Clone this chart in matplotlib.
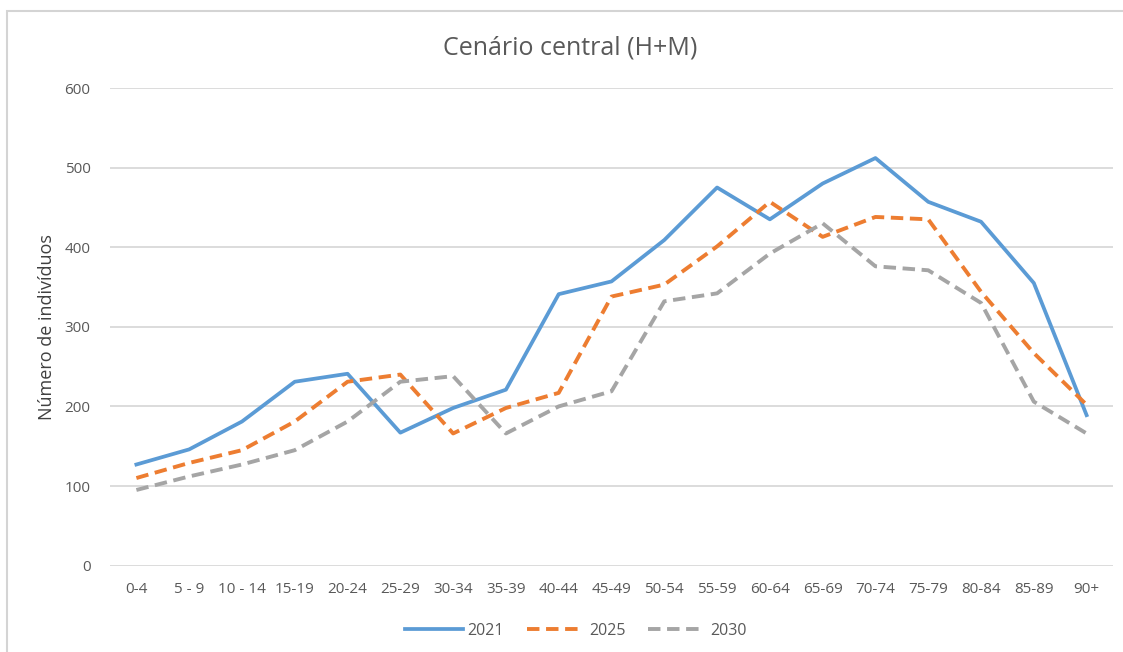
import matplotlib.pyplot as plt
from matplotlib.patches import Rectangle

plt.rcParams["font.family"] = ["Open Sans", "DejaVu Sans"]

age_groups = ["0-4", "5 - 9", "10 - 14", "15-19", "20-24", "25-29", "30-34",
              "35-39", "40-44", "45-49", "50-54", "55-59", "60-64", "65-69",
              "70-74", "75-79", "80-84", "85-89", "90+"]
pop_2021 = [127, 146, 181, 231, 241, 167, 198, 221, 341, 357, 409, 475,
            435, 480, 512, 457, 432, 355, 189]
pop_2025 = [110, 129, 145, 181, 231, 240, 166, 198, 217, 338, 353, 401,
            457, 413, 438, 435, 344, 267, 202]
pop_2030 = [95, 112, 127, 145, 181, 231, 238, 166, 200, 219, 332, 342,
            392, 430, 376, 371, 330, 206, 166]
years = ["2021", "2025", "2030"]

fig = plt.figure(figsize=(11.23, 6.52), dpi=100)
ax = fig.add_axes([110 / 1123, 86.4 / 652, 1003 / 1123, 477.6 / 652])

# chart frame (light border, cropped on right/bottom)
fig.patches.append(Rectangle((7 / 1123, -0.1), 1.2, (652 - 11) / 652 + 0.1,
                             transform=fig.transFigure, fill=False,
                             edgecolor="#d4d4d4", linewidth=1.5))

x = list(range(len(age_groups)))
ax.plot(x, pop_2021, color="#5b9bd5", linewidth=2.7, label=years[0],
        solid_joinstyle="round")
ax.plot(x, pop_2025, color="#ed7d31", linewidth=2.8, label=years[1],
        linestyle=(0, (3.2, 1.7)))
ax.plot(x, pop_2030, color="#a5a5a5", linewidth=2.8, label=years[2],
        linestyle=(0, (3.2, 1.7)))

ax.set_xlim(-0.5, len(age_groups) - 0.5)
ax.set_ylim(0, 600)
ax.set_yticks(range(0, 601, 100))
ax.set_xticks(x)
ax.set_xticklabels(age_groups)
ax.grid(axis="y", color="#d9d9d9", linewidth=1.3)
ax.set_axisbelow(True)
for s in ax.spines.values():
    s.set_visible(False)
ax.tick_params(axis="both", length=0, labelsize=11, colors="#595959")
ax.tick_params(axis="y", pad=14)
ax.tick_params(axis="x", pad=12)

ax.set_ylabel("Número de indivíduos", fontsize=13, color="#404040", labelpad=6)
fig.text(570 / 1123, 1 - 48 / 652, "Cenário central (H+M)", ha="center",
         va="center", fontsize=18, color="#595959")

fig.legend(loc="center", bbox_to_anchor=(576 / 1123, 1 - 631 / 652), ncol=3,
           frameon=False, fontsize=11.5, handlelength=3.6, columnspacing=1.4,
           handletextpad=0.3, labelcolor="#595959")

fig.savefig("out.png", dpi=100, facecolor="white")
